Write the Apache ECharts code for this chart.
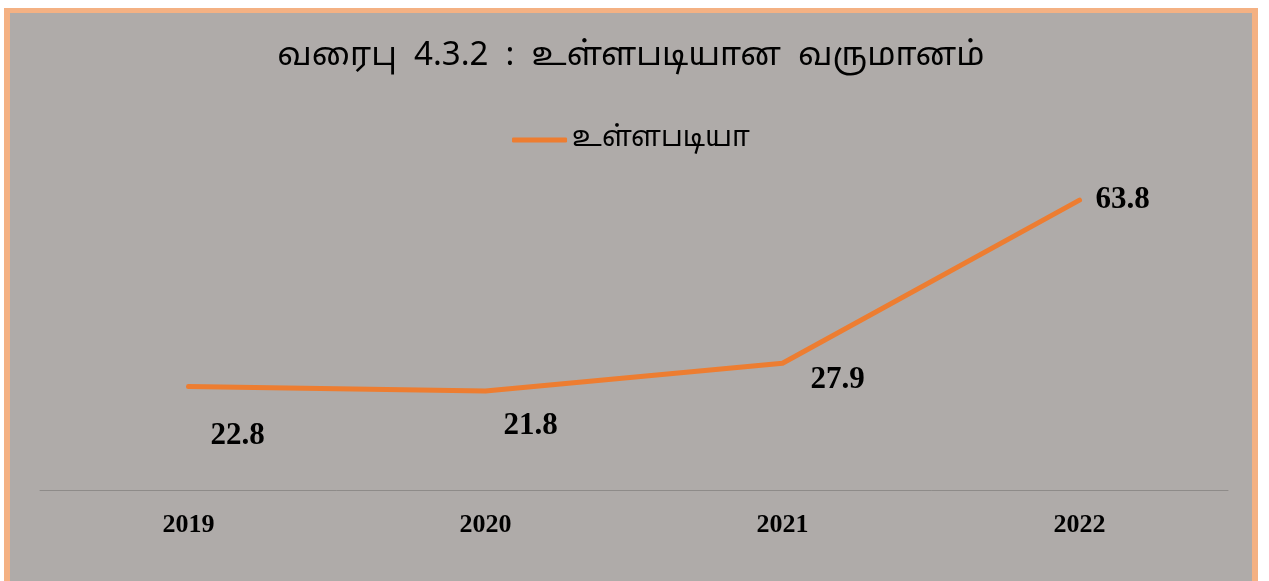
<!DOCTYPE html>
<html>
<head>
<meta charset="utf-8">
<script src="https://cdn.jsdelivr.net/npm/echarts@6/dist/echarts.min.js"></script>
<style>
    html, body {
        margin: 0;
        padding: 0;
        background: #fff;
        overflow: hidden;
    }
    .card {
        position: absolute;
        left: 4px;
        top: 8px;
        width: 1254px;
        height: 600px;
        box-sizing: border-box;
        border: 6px solid #f4b183;
        border-top-width: 5px;
        background: #afaba9;
    }
    #chart {
        width: 1242px;
        height: 568px;
    }
</style>
</head>
<body>
<div class="card">
    <div id="chart"></div>
</div>
<script>
// data
const years = ['2019', '2020', '2021', '2022'];
const values = [22.8, 21.8, 27.9, 63.8];
const seriesName = 'உள்ளபடியா';
const titleText = 'வரைபு  4.3.2  :  உள்ளபடியான  வருமானம்';

// label offsets (Excel placed them a bit off the points)
const labelOffsets = [[49, 50], [45, 35], [55, 17], [43, 0]];

const chart = echarts.init(document.getElementById('chart'));

const option = {
    backgroundColor: 'transparent',
    animation: false,
    title: {
        text: titleText,
        left: 'center',
        top: 24,
        textStyle: {
            fontFamily: 'Noto Sans Tamil, Latha, sans-serif',
            fontSize: 33,
            fontWeight: 'normal',
            color: '#000'
        }
    },
    legend: {
        data: [{ name: seriesName, icon: 'roundRect' }],
        left: 'center',
        top: 108,
        itemWidth: 55,
        itemHeight: 5,
        itemGap: 4,
        textStyle: {
            fontFamily: 'Noto Sans Tamil, Latha, sans-serif',
            fontSize: 28,
            color: '#000'
        }
    },
    grid: {
        left: 30,
        right: 24,
        top: 159,
        height: 318
    },
    xAxis: {
        type: 'category',
        data: years,
        axisLine: { lineStyle: { color: '#8e8b89', width: 1 } },
        axisTick: { show: false },
        axisLabel: {
            margin: 22,
            fontFamily: 'Liberation Serif, Times New Roman, serif',
            fontWeight: 'bold',
            fontSize: 26,
            color: '#000'
        }
    },
    yAxis: {
        type: 'value',
        min: 0,
        max: 70,
        show: false,
        splitLine: { show: false }
    },
    series: [
        {
            name: seriesName,
            type: 'line',
            data: values.map((v, i) => ({
                value: v,
                label: { offset: labelOffsets[i] }
            })),
            symbol: 'circle',
            symbolSize: 0,
            lineStyle: { color: '#ed7d31', width: 5, cap: 'round', join: 'round' },
            itemStyle: { color: '#ed7d31' },
            label: {
                show: true,
                position: 'inside',
                fontFamily: 'Liberation Serif, Times New Roman, serif',
                fontWeight: 'bold',
                fontSize: 31,
                color: '#000'
            }
        }
    ]
};

chart.setOption(option);
</script>
</body>
</html>
